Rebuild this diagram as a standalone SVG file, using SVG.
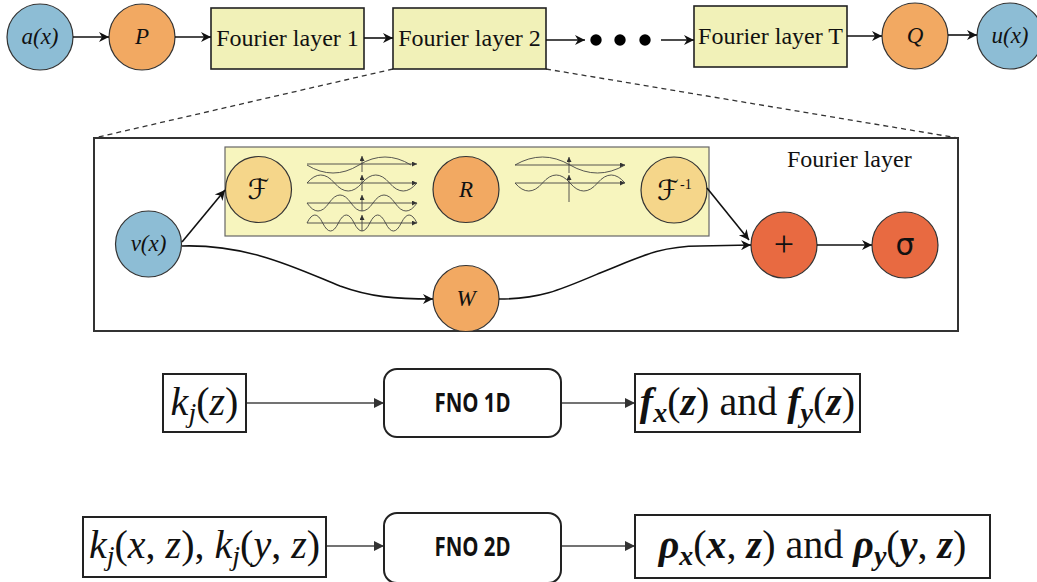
<svg xmlns="http://www.w3.org/2000/svg" width="1037" height="582" viewBox="0 0 1037 582">
<defs>
<marker id="ah" viewBox="0 0 10 10" refX="10" refY="5" markerWidth="12" markerHeight="10" markerUnits="userSpaceOnUse" orient="auto">
<path d="M0,0 L10,5 L0,10 L3,5 z" fill="#111"/>
</marker>
<marker id="ah2" viewBox="0 0 10 10" refX="10" refY="5" markerWidth="11" markerHeight="10" markerUnits="userSpaceOnUse" orient="auto">
<path d="M0,0 L10,5 L0,10 z" fill="#333"/>
</marker>
<marker id="sm" viewBox="0 0 10 10" refX="10" refY="5" markerWidth="5" markerHeight="5" markerUnits="userSpaceOnUse" orient="auto">
<path d="M0,0 L10,5 L0,10 z" fill="#333"/>
</marker>
</defs>
<style>
.blue{fill:#8DBDD5;stroke:#333;stroke-width:1.2}
.org{fill:#F2A962;stroke:#333;stroke-width:1.2}
.lorg{fill:#F5D68A;stroke:#333;stroke-width:1.2}
.red{fill:#E86A41;stroke:#333;stroke-width:1.2}
.ybox{fill:#F1F1B8;stroke:#222;stroke-width:1.6}
.lbl{font-family:"Liberation Serif",serif;font-style:italic;font-size:23px;fill:#111;text-anchor:middle}
.box{font-family:"Liberation Serif",serif;font-size:24px;fill:#111;text-anchor:middle}
.con{stroke:#111;stroke-width:1.6;fill:none;marker-end:url(#ah)}
.wave{stroke:#444;stroke-width:0.9;fill:none}
.ax{stroke:#444;stroke-width:0.9;fill:none;marker-end:url(#sm)}
.mbox{fill:#fff;stroke:#222;stroke-width:2}
.math{font-family:"Liberation Serif",serif;font-size:40px;fill:#111}
.fno{font-family:"Open Sans",sans-serif;font-weight:bold;font-size:27px;fill:#111;text-anchor:middle}
.bcon{stroke:#444;stroke-width:1.6;fill:none;marker-end:url(#ah2)}
.cal{font-family:"DejaVu Serif","DejaVu Sans",serif;font-size:28px;fill:#111;text-anchor:middle}
</style>
<rect width="1037" height="582" fill="#fff"/>

<g id="zoom-lines">
<line x1="393" y1="69" x2="94" y2="138" stroke="#333" stroke-width="1.3" stroke-dasharray="5,4"/>
<line x1="546" y1="69" x2="958" y2="138" stroke="#333" stroke-width="1.3" stroke-dasharray="5,4"/>
</g>

<g id="top-row">
<g id="a"><circle cx="40" cy="37" r="33" class="blue"/><text x="40" y="44" class="lbl">a(x)</text></g>
<g id="P"><circle cx="142" cy="37" r="33" class="org"/><text x="142" y="44" class="lbl">P</text></g>
<g id="fl1"><rect x="211" y="8" width="153" height="61" class="ybox"/><text x="287.5" y="46" class="box">Fourier layer 1</text></g>
<g id="fl2"><rect x="393" y="8" width="153" height="61" class="ybox"/><text x="469.5" y="46" class="box">Fourier layer 2</text></g>
<g id="dots"><circle cx="596" cy="40" r="5.7" fill="#000"/><circle cx="620" cy="40" r="5.7" fill="#000"/><circle cx="645" cy="40" r="5.7" fill="#000"/></g>
<g id="flT"><rect x="694" y="6" width="153" height="61" class="ybox"/><text x="770.5" y="44" class="box">Fourier layer T</text></g>
<g id="Q"><circle cx="915" cy="36" r="33" class="org"/><text x="915" y="43" class="lbl">Q</text></g>
<g id="u"><circle cx="1010" cy="36" r="33" class="blue"/><text x="1010" y="43" class="lbl">u(x)</text></g>
</g>

<g id="fourier-layer">
<rect x="94" y="138" width="864" height="193" fill="#fff" stroke="#333" stroke-width="2"/>
<text x="787" y="167" font-family="Liberation Serif,serif" font-size="24" fill="#111">Fourier layer</text>
<rect x="225" y="147" width="484" height="89" fill="#F7F5BE" stroke="#666" stroke-width="1.2"/>
<g id="waves-left">
<line x1="307" y1="164" x2="417" y2="164" class="ax"/>
<line x1="307" y1="183" x2="417" y2="183" class="ax"/>
<line x1="307" y1="203" x2="417" y2="203" class="ax"/>
<line x1="307" y1="223" x2="417" y2="223" class="ax"/>
<line x1="362" y1="172" x2="362" y2="156" class="ax"/>
<line x1="362" y1="191" x2="362" y2="175" class="ax"/>
<line x1="362" y1="211" x2="362" y2="195" class="ax"/>
<line x1="362" y1="231" x2="362" y2="215" class="ax"/>
<path class="wave" d="M307,165 q26,16 52,0 t52,0"/>
<path class="wave" d="M307,183 q13.75,-16 27.5,0 t27.5,0 t27.5,0 t27.5,0"/>
<path class="wave" d="M307,203 q11,16 22,0 t22,0 t22,0 t22,0 t22,0"/>
<path class="wave" d="M307,223 q7.86,-16 15.71,0 t15.71,0 t15.71,0 t15.71,0 t15.71,0 t15.71,0 t15.71,0"/>
</g>
<g id="waves-right">
<line x1="515" y1="165" x2="625" y2="165" class="ax"/>
<line x1="515" y1="183" x2="625" y2="183" class="ax"/>
<line x1="569" y1="173" x2="569" y2="157" class="ax"/>
<line x1="569" y1="202" x2="569" y2="175" class="ax"/>
<path class="wave" d="M515,165 q27.5,-16 55,0 t55,0"/>
<path class="wave" d="M515,183 q13.75,16 27.5,0 t27.5,0 t27.5,0 t27.5,0"/>
</g>
<g id="F"><circle cx="258.5" cy="189.5" r="33" class="lorg"/><text x="258.5" y="199" class="cal">ℱ</text></g>
<g id="R"><circle cx="466" cy="189.5" r="33" class="org"/><text x="466" y="197" class="lbl">R</text></g>
<g id="Finv"><circle cx="674" cy="190" r="33" class="lorg"/><text x="668" y="200" class="cal">ℱ</text><text x="680" y="189" font-family="Liberation Serif,serif" font-size="14" fill="#111">-1</text></g>
<g id="v"><circle cx="148.5" cy="244" r="33" class="blue"/><text x="148.5" y="251" class="lbl">v(x)</text></g>
<g id="W"><circle cx="466" cy="298.5" r="33" class="org"/><text x="466" y="306" class="lbl">W</text></g>
<g id="plus"><circle cx="784" cy="245" r="33" class="red"/><text x="784" y="256" font-family="Liberation Serif,serif" font-size="36" text-anchor="middle" fill="#111">+</text></g>
<g id="sigma"><circle cx="905" cy="245" r="33" class="red"/><text x="905" y="255" font-family="DejaVu Sans,sans-serif" font-size="30" text-anchor="middle" fill="#111">σ</text></g>
</g>

<g id="connectors">
<line x1="73" y1="37" x2="109" y2="37" class="con"/>
<line x1="175" y1="37" x2="211" y2="37" class="con"/>
<line x1="364" y1="38" x2="393" y2="38" class="con"/>
<line x1="546" y1="40" x2="585" y2="40" class="con"/>
<line x1="661" y1="40" x2="694" y2="40" class="con"/>
<line x1="847" y1="36" x2="882" y2="36" class="con"/>
<line x1="948" y1="35" x2="977" y2="35" class="con"/>
<line x1="182" y1="242" x2="225" y2="190" class="con"/>
<path d="M182,246 C250,244 300,270 340,286 C370,297 395,299 433,299" class="con"/>
<path d="M499,299 C540,299 560,290 600,273 C640,257 660,246 700,246 L751,245" class="con"/>
<line x1="707" y1="188" x2="749" y2="240" class="con"/>
<line x1="817" y1="245" x2="872" y2="245" class="con"/>
<line x1="246" y1="403" x2="384" y2="403" class="bcon"/>
<line x1="561" y1="403" x2="635" y2="403" class="bcon"/>
<line x1="326" y1="546" x2="384" y2="546" class="bcon"/>
<line x1="561" y1="546" x2="635" y2="546" class="bcon"/>
</g>

<g id="k1">
<rect x="163" y="374" width="83" height="58" class="mbox"/>
<text x="204.5" y="415" class="math" text-anchor="middle"><tspan font-style="italic">k</tspan><tspan font-style="italic" font-size="28" dy="7">j</tspan><tspan dy="-7">(</tspan><tspan font-style="italic">z</tspan>)</text>
</g>
<g id="fno1d">
<rect x="384" y="369" width="177" height="68" rx="13" class="mbox"/>
<text x="472.5" y="412" class="fno" textLength="76" lengthAdjust="spacingAndGlyphs">FNO 1D</text>
</g>
<g id="f1">
<rect x="635" y="374" width="225" height="58" class="mbox"/>
<text x="747.5" y="415" class="math" text-anchor="middle"><tspan font-style="italic" font-weight="bold">f</tspan><tspan font-style="italic" font-weight="bold" font-size="28" dy="7">x</tspan><tspan dy="-7">(</tspan><tspan font-style="italic" font-weight="bold">z</tspan>) and <tspan font-style="italic" font-weight="bold">f</tspan><tspan font-style="italic" font-weight="bold" font-size="28" dy="7">y</tspan><tspan dy="-7">(</tspan><tspan font-style="italic" font-weight="bold">z</tspan>)</text>
</g>
<g id="k2">
<rect x="83" y="517" width="243" height="60" class="mbox"/>
<text x="204.5" y="558" class="math" text-anchor="middle"><tspan font-style="italic">k</tspan><tspan font-style="italic" font-size="28" dy="7">j</tspan><tspan dy="-7">(</tspan><tspan font-style="italic">x</tspan>, <tspan font-style="italic">z</tspan>), <tspan font-style="italic">k</tspan><tspan font-style="italic" font-size="28" dy="7">j</tspan><tspan dy="-7">(</tspan><tspan font-style="italic">y</tspan>, <tspan font-style="italic">z</tspan>)</text>
</g>
<g id="fno2d">
<rect x="384" y="513" width="177" height="70" rx="13" class="mbox"/>
<text x="472.5" y="556" class="fno" textLength="76" lengthAdjust="spacingAndGlyphs">FNO 2D</text>
</g>
<g id="rho">
<rect x="635" y="515" width="355" height="63" class="mbox"/>
<text x="812.5" y="558" class="math" text-anchor="middle"><tspan font-style="italic" font-weight="bold">ρ</tspan><tspan font-style="italic" font-weight="bold" font-size="28" dy="7">x</tspan><tspan dy="-7">(</tspan><tspan font-style="italic" font-weight="bold">x</tspan>, <tspan font-style="italic" font-weight="bold">z</tspan>) and <tspan font-style="italic" font-weight="bold">ρ</tspan><tspan font-style="italic" font-weight="bold" font-size="28" dy="7">y</tspan><tspan dy="-7">(</tspan><tspan font-style="italic" font-weight="bold">y</tspan>, <tspan font-style="italic" font-weight="bold">z</tspan>)</text>
</g>
</svg>
